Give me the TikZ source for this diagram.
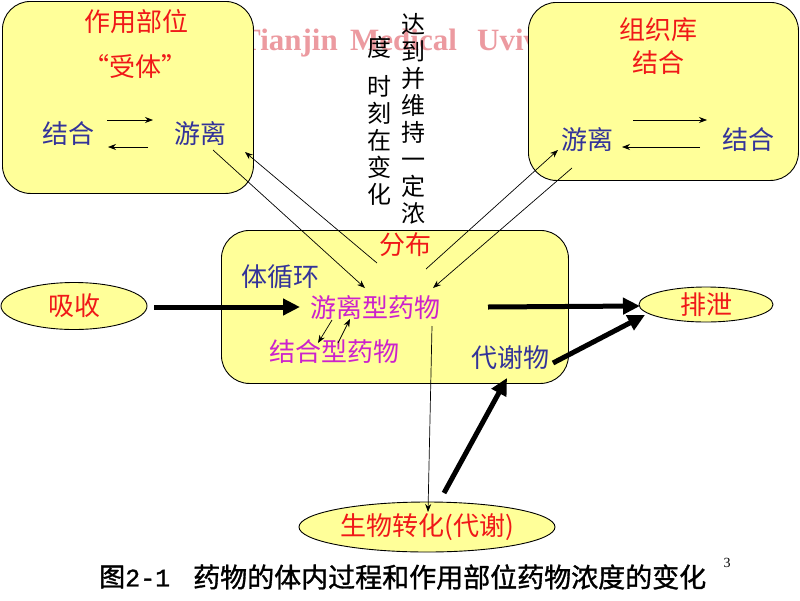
\documentclass[tikz,border=0pt]{standalone}
\usepackage{fontspec}
\setmainfont{Liberation Serif}
\newfontfamily\cjk{Noto Sans CJK SC}
\newfontfamily\capcjk[FakeBold=1.2]{Noto Sans CJK SC}
\newfontfamily\capmono[FakeBold=1.2]{Liberation Mono}
\usetikzlibrary{arrows.meta,shapes.geometric}
\definecolor{boxyellow}{HTML}{FFFF99}
\definecolor{txtred}{HTML}{F01818}
\definecolor{txtblue}{HTML}{333399}
\definecolor{txtmag}{HTML}{CC22CC}
\definecolor{wmark}{HTML}{EC9AA0}
\begin{document}
\begin{tikzpicture}[x=1pt,y=-1pt,
  box/.style={draw=black, fill=boxyellow, rounded corners=28pt, line width=0.9pt, inner sep=0pt},
  oval/.style={ellipse, draw=black, fill=boxyellow, line width=0.9pt, inner sep=0pt},
  lbl/.style={font=\cjk\fontsize{26}{28}\selectfont, inner sep=0pt},
  vlbl/.style={font=\cjk\fontsize{24}{26.9}\selectfont, inner sep=0pt, text=black, align=center},
  wmtext/.style={font=\fontsize{31}{33}\selectfont\bfseries, text=wmark, inner sep=0pt},
  thinarr/.style={line width=0.7pt, -{Stealth[length=8pt,width=6pt]}},
  thickarr/.style={line width=5pt, -{Triangle[length=17pt,width=16pt]}},
]
\useasboundingbox (0,0) rectangle (800,600);
\fill[white] (0,0) rectangle (800,600);

% watermark
\node[wmtext, anchor=base east] (wm1) at (338,50) {Tianjin};
\node[wmtext, anchor=base west] (wm2) at (350,50) {Medical};
\node[wmtext, anchor=base west] (wm3) at (477,50) {Uviv};

% boxes
\node[box, anchor=north west, minimum width=251pt, minimum height=192pt] (site) at (2,1) {};
\node[box, anchor=north west, minimum width=270pt, minimum height=178pt] (depot) at (528,2) {};
\node[box, anchor=north west, minimum width=347pt, minimum height=153pt] (circ) at (221,230) {};

% ellipses
\node[oval, minimum width=146pt, minimum height=47pt, text=txtred, font=\cjk\fontsize{26}{28}\selectfont] (xishou) at (74,306) {吸收};
\node[oval, minimum width=134pt, minimum height=35pt, text=txtred, font=\cjk\fontsize{26}{28}\selectfont] (paixie) at (706,304.5) {排泄};
\node[oval, minimum width=256pt, minimum height=50pt, text=txtred, font=\cjk\fontsize{26}{28}\selectfont] (zhuanhua) at (427,527) {生物转化(代谢)};

% left box texts
\node[lbl, text=txtred] (zuoyong) at (136,22) {作用部位};
\node[lbl, text=txtred] (shouti) at (135,67) {“受体”};
\node[lbl, text=txtblue] (ljiehe) at (68,134) {结合};
\node[lbl, text=txtblue] (lyouli) at (200,134) {游离};

% right box texts
\node[lbl, text=txtred] (zuzhiku) at (658,30) {组织库};
\node[lbl, text=txtred] (rjiehe0) at (658,63) {结合};
\node[lbl, text=txtblue] (ryouli) at (587,140) {游离};
\node[lbl, text=txtblue] (rjiehe) at (748,140) {结合};

% vertical texts
\node[vlbl] (col1) at (413,119) {达\\到\\并\\维\\持\\一\\定\\浓};
\node[vlbl] (du) at (379,47) {度};
\node[vlbl] (col2) at (379,140.5) {时\\刻\\在\\变\\化};

% center texts
\node[lbl, text=txtred] (fenbu) at (405,245) {分布};
\node[lbl, text=txtblue] (xunhuan) at (280,277) {体循环};
\node[lbl, text=txtmag] (youlixing) at (375,308) {游离型药物};
\node[lbl, text=txtmag] (jiehexing) at (334,352) {结合型药物};
\node[lbl, text=txtblue] (daixiewu) at (510,358) {代谢物};

% caption and page number
\node[font=\capcjk\fontsize{26}{28}\selectfont, anchor=west, inner sep=0pt] (capnum) at (99,577) {图{\capmono\fontsize{25}{28}\selectfont 2-1}};
\node[font=\capcjk\fontsize{27}{29}\selectfont, anchor=west, inner sep=0pt] (captxt) at (193,577) {药物的体内过程和作用部位药物浓度的变化};
\node[font=\fontsize{14}{16}\selectfont, inner sep=0pt] (pageno) at (727,563) {3};

% coordinates for connector ends
\coordinate (la1) at (107,120); \coordinate (la2) at (153,120);
\coordinate (lb1) at (148,147); \coordinate (lb2) at (108,147);
\coordinate (ra1) at (633,120); \coordinate (ra2) at (707,120);
\coordinate (rb1) at (700,147); \coordinate (rb2) at (622,147);
\coordinate (A1) at (213,150); \coordinate (A2) at (365,288);
\coordinate (B1) at (377,263); \coordinate (B2) at (245,152);
\coordinate (C1) at (426,269); \coordinate (C2) at (558,150);
\coordinate (D1) at (572,168); \coordinate (D2) at (433,288);
\coordinate (E1) at (432,326); \coordinate (E2) at (428,512);
\coordinate (F1) at (332,320); \coordinate (F2) at (318,343);
\coordinate (G1) at (338,343); \coordinate (G2) at (350,319);
\coordinate (T1s) at (154,307); \coordinate (T1e) at (300,307);
\coordinate (T2s) at (488,307); \coordinate (T2e) at (640,306);
\coordinate (T3s) at (553,363); \coordinate (T3e) at (645,315);
\coordinate (T4s) at (444,493); \coordinate (T4e) at (507,378);

% thin connectors
\draw[thinarr] (la1) -- (la2);
\draw[thinarr] (lb1) -- (lb2);
\draw[thinarr] (ra1) -- (ra2);
\draw[thinarr] (rb1) -- (rb2);
\draw[thinarr] (A1) -- (A2);
\draw[thinarr] (B1) -- (B2);
\draw[thinarr] (C1) -- (C2);
\draw[thinarr] (D1) -- (D2);
\draw[thinarr] (E1) -- (E2);
\draw[thinarr] (F1) -- (F2);
\draw[thinarr] (G1) -- (G2);

% thick connectors
\draw[thickarr] (T1s) -- (T1e);
\draw[thickarr] (T2s) -- (T2e);
\draw[thickarr] (T3s) -- (T3e);
\draw[thickarr] (T4s) -- (T4e);
\end{tikzpicture}
\end{document}
